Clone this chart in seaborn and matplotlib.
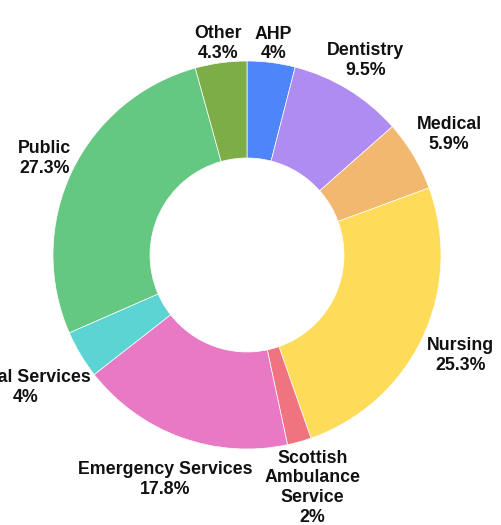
import numpy as np
import matplotlib
matplotlib.use("Agg")
import matplotlib.pyplot as plt
import seaborn as sns

categories = ["AHP", "Dentistry", "Medical", "Nursing", "Scottish\nAmbulance\nService",
              "Emergency Services", "Social Services", "Public", "Other"]
values = [4, 9.5, 5.9, 25.3, 2, 17.8, 4, 27.3, 4.3]
value_labels = ["4%", "9.5%", "5.9%", "25.3%", "2%", "17.8%", "4%", "27.3%", "4.3%"]
colors = ["#4E85F8", "#AE8CF2", "#F2B870", "#FFDB5A", "#F07480",
          "#E879C4", "#5DD4D4", "#64C882", "#7DAD47"]

sns.set_theme(style="white")
plt.rcParams['font.family'] = ['Liberation Sans', 'DejaVu Sans']

W, H = 502, 525
fig = plt.figure(figsize=(W / 100, H / 100), dpi=100)
ax = fig.add_axes([0, 0, 1, 1])
R_px = 194.0
cx, cy = 247.0, 255.0

wedges, _ = ax.pie(values, colors=colors, startangle=90, counterclock=False,
                   radius=1.0, wedgeprops=dict(width=0.5, edgecolor="white", linewidth=0.5))
ax.set_aspect('auto')
ax.set_xlim(-cx / R_px, (W - cx) / R_px)
ax.set_ylim(-(H - cy) / R_px, cy / R_px)
ax.axis('off')

fig.canvas.draw()
renderer = fig.canvas.get_renderer()
total = sum(values)
cum = 0.0
for cat, v, vl in zip(categories, values, value_labels):
    mid = 90 - (cum + v / 2) / total * 360
    cum += v
    a = np.deg2rad(mid)
    t = ax.text(0, 0, f"{cat}\n{vl}", ha="center", va="center", multialignment="center",
                fontsize=12.8, fontweight="bold", color="#111111", linespacing=1.22)
    bb = t.get_window_extent(renderer)
    w_u = bb.width / R_px
    h_u = bb.height / R_px
    off = w_u / 2 * abs(np.cos(a)) + h_u / 2 * abs(np.sin(a))
    d = 0.99 + off
    if np.cos(a) > 0.8:
        d += 0.03
    t.set_position((d * np.cos(a), d * np.sin(a)))

fig.savefig("out.png", dpi=100)
